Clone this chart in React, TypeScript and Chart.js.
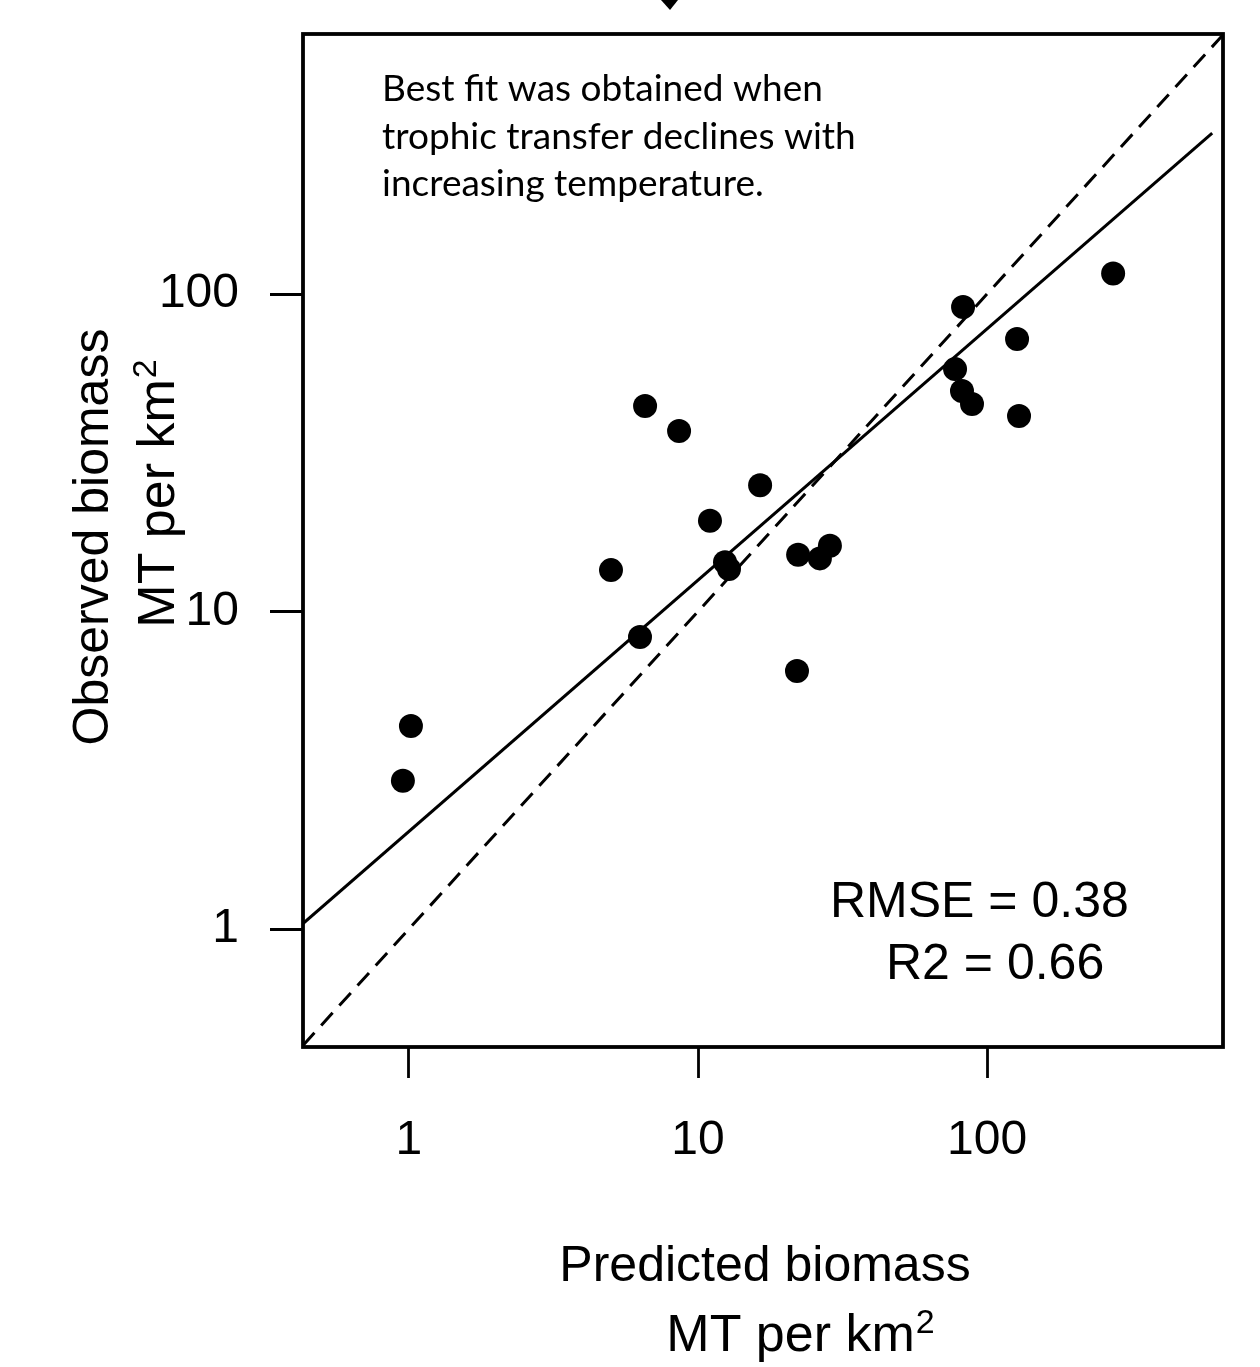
import React, { useEffect, useRef } from "react";
import { Chart, registerables } from "chart.js";

Chart.register(...registerables);

// Predicted (x) and observed (y) biomass, MT per km²
const predicted = [0.953, 1.016, 5.0, 6.3, 6.56, 8.6, 11.0, 12.4, 12.8, 16.4, 22.0, 22.2, 26.4, 28.6, 77.5, 82.6, 81.9, 88.7, 127, 129, 273];
const observed = [2.93, 4.36, 13.5, 8.31, 44.4, 37.0, 19.3, 14.3, 13.6, 25.0, 6.5, 15.1, 14.7, 16.1, 58.0, 91.0, 49.5, 45.0, 72.1, 41.3, 116];

// Fitted regression line endpoints
const fitX = [0.43, 601];
const fitY = [1.04, 321];

// 1:1 reference line endpoints
const oneToOneX = [0.43, 655];
const oneToOneY = [0.43, 655];

// Axis ranges and ticks
const xRange = [0.43, 655];
const yRange = [0.425, 659];
const xTicks = [1, 10, 100];
const yTicks = [1, 10, 100];

const xTitle = ["Predicted biomass", "MT per km", "2"];
const yTitle = ["Observed biomass", "MT per km", "2"];
const noteLines = ["Best fit was obtained when", "trophic transfer declines with", "increasing temperature."];
const statLines = ["RMSE = 0.38", "R2 = 0.66"];

const ARIAL = '"Liberation Sans", Arial, sans-serif';

export default function App() {
  const ref = useRef<HTMLCanvasElement | null>(null);

  useEffect(() => {
    const canvas = ref.current;
    if (!canvas) return;

    const drawUnitLabel = (ctx: CanvasRenderingContext2D, main: string, sup: string, cx: number, y: number) => {
      ctx.font = `52px ${ARIAL}`;
      const w1 = ctx.measureText(main).width;
      ctx.font = `34px ${ARIAL}`;
      const w2 = ctx.measureText(sup).width;
      const start = cx - (w1 + w2) / 2;
      ctx.textAlign = "left";
      ctx.font = `52px ${ARIAL}`;
      ctx.fillText(main, start, y);
      ctx.font = `34px ${ARIAL}`;
      ctx.fillText(sup, start + w1 + 1, y - 18);
    };

    const decor = {
      id: "decor",
      afterDatasetsDraw(chart: any) {
        const { ctx, chartArea } = chart;
        ctx.save();
        ctx.strokeStyle = "#000";
        ctx.lineWidth = 3.8;
        ctx.strokeRect(chartArea.left, chartArea.top, chartArea.right - chartArea.left, chartArea.bottom - chartArea.top);
        ctx.restore();
      },
      afterDraw(chart: any) {
        const { ctx } = chart;
        ctx.save();
        ctx.fillStyle = "#000";
        // arrow head fragment at top
        ctx.beginPath();
        ctx.moveTo(661, 0);
        ctx.lineTo(678, 0);
        ctx.lineTo(670, 10);
        ctx.closePath();
        ctx.fill();

        // note text
        ctx.font = '37px Lato, "Open Sans", sans-serif';
        ctx.textAlign = "left";
        ctx.textBaseline = "alphabetic";
        noteLines.forEach((t, i) => ctx.fillText(t, 382, 101 + i * 47.5));

        // stats
        ctx.font = `50px ${ARIAL}`;
        ctx.fillText(statLines[0], 830, 917);
        ctx.fillText(statLines[1], 886, 979);

        // x title
        ctx.textAlign = "center";
        ctx.fillText(xTitle[0], 765, 1281);
        drawUnitLabel(ctx, xTitle[1], xTitle[2], 800, 1351);

        // y title
        ctx.save();
        ctx.translate(108, 537);
        ctx.rotate(-Math.PI / 2);
        ctx.textAlign = "center";
        ctx.font = `50px ${ARIAL}`;
        ctx.fillText(yTitle[0], 0, 0);
        ctx.restore();
        ctx.save();
        ctx.translate(174, 494);
        ctx.rotate(-Math.PI / 2);
        drawUnitLabel(ctx, yTitle[1], yTitle[2], 0, 0);
        ctx.restore();
        ctx.restore();
      },
    };

    const chart = new Chart(canvas, {
      type: "scatter",
      data: {
        datasets: [
          {
            data: predicted.map((x, i) => ({ x, y: observed[i] })),
            pointRadius: 12,
            pointBackgroundColor: "#000",
            pointBorderWidth: 0,
            showLine: false,
          },
          {
            data: fitX.map((x, i) => ({ x, y: fitY[i] })),
            showLine: true,
            pointRadius: 0,
            borderColor: "#000",
            borderWidth: 3,
          },
          {
            data: oneToOneX.map((x, i) => ({ x, y: oneToOneY[i] })),
            showLine: true,
            pointRadius: 0,
            borderColor: "#000",
            borderWidth: 3,
            borderDash: [17, 10],
          },
        ],
      },
      options: {
        responsive: false,
        devicePixelRatio: 1,
        animation: false,
        layout: { padding: { left: 0, right: 37, top: 34, bottom: 0 } },
        plugins: { legend: { display: false }, tooltip: { enabled: false } },
        scales: {
          x: {
            type: "logarithmic",
            min: xRange[0],
            max: xRange[1],
            afterBuildTicks: (s: any) => {
              s.ticks = xTicks.map((v) => ({ value: v }));
            },
            afterFit: (s: any) => {
              s.height = 320;
              s.paddingLeft = 0;
              s.paddingRight = 0;
              s.paddingTop = 0;
              s.paddingBottom = 0;
            },
            ticks: {
              color: "#000",
              font: { family: ARIAL, size: 48 },
              padding: 34,
              maxRotation: 0,
              autoSkip: false,
              callback: (v: any) => String(v),
            },
            grid: { drawOnChartArea: false, drawTicks: true, tickLength: 31, tickWidth: 2.8, tickColor: "#000", color: "#000" },
            border: { display: false },
          },
          y: {
            type: "logarithmic",
            min: yRange[0],
            max: yRange[1],
            afterBuildTicks: (s: any) => {
              s.ticks = yTicks.map((v) => ({ value: v }));
            },
            afterFit: (s: any) => {
              s.width = 303;
              s.paddingLeft = 0;
              s.paddingRight = 0;
              s.paddingTop = 0;
              s.paddingBottom = 0;
            },
            ticks: {
              color: "#000",
              font: { family: ARIAL, size: 48 },
              padding: 31,
              autoSkip: false,
              callback: (v: any) => String(v),
            },
            grid: { drawOnChartArea: false, drawTicks: true, tickLength: 33, tickWidth: 2.8, tickColor: "#000", color: "#000" },
            border: { display: false },
          },
        },
      },
      plugins: [decor],
    });

    return () => chart.destroy();
  }, []);

  return (
    <div style={{ position: "absolute", left: 0, top: 0, width: 1260, height: 1367, background: "#fff" }}>
      <canvas ref={ref} width={1260} height={1367} />
    </div>
  );
}
